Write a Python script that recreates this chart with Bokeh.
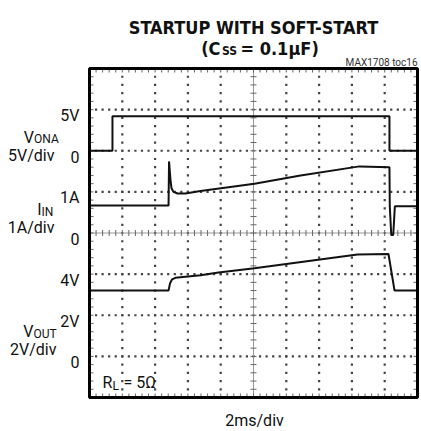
import numpy as np
from bokeh.plotting import figure
from bokeh.models import Label, Range1d
from bokeh.embed import file_html
from bokeh.resources import INLINE

# ---- data (time in ms, 2ms/div) ----
t_vona = [0, 1.40, 1.40, 18.29, 18.29, 20]
v_ona = [0, 0, 4.2, 4.2, 0, 0]            # V, 5V/div, zero at div 6

t_iin = [0, 4.82, 4.85, 4.94, 5.00, 5.12, 5.37, 5.85, 6.77, 10.06, 12.87,
         16.46, 18.29, 18.31, 18.40, 18.52, 18.62, 20]
i_in = [0.67, 0.67, 1.74, 1.28, 1.09, 1.00, 0.96, 0.96, 1.02, 1.20, 1.40,
        1.62, 1.60, 0.65, -0.05, -0.05, 0.65, 0.65]  # A, 1A/div, zero at div 4

t_vout = [0, 4.82, 4.91, 5.03, 5.24, 6.77, 7.87, 10.06, 16.34, 18.23, 18.60, 20]
v_out = [3.2, 3.2, 3.55, 3.74, 3.82, 3.94, 4.08, 4.29, 4.96, 4.98, 3.2, 3.2]  # V, 2V/div, zero at div 1

scale_labels = ["5V", "0", "1A", "0", "4V", "2V", "0"]
scale_divs = [7, 6, 5, 4, 3, 2, 1]

VONA_ZERO, VONA_SCALE = 6, 5.0
IIN_ZERO, IIN_SCALE = 4, 1.0
VOUT_ZERO, VOUT_SCALE = 1, 2.0
T_SPAN, DIVS = 20.0, 8.0

FL, FR, FT, FB = 89, 417, 68, 397   # scope screen in picture px
W, H = 421, 431

def X(px):
    return (px - FL) / (FR - FL) * T_SPAN

def Y(py):
    return (FB - py) / (FB - FT) * DIVS

FONT = "Roboto"
TFONT = "DejaVu Sans Condensed, Roboto, sans-serif"

p = figure(width=W, height=H, x_range=Range1d(X(0), X(W)), y_range=Range1d(Y(H), Y(0)),
           output_backend="svg", toolbar_location=None,
           x_axis_location=None, y_axis_location=None,
           min_border_left=0, min_border_right=0, min_border_top=0, min_border_bottom=0)
p.grid.visible = False
p.outline_line_color = None
p.background_fill_color = "white"
p.border_fill_color = "white"

# dotted grid
gx = np.arange(0.4, T_SPAN, 0.4)
gy = np.arange(0.2, DIVS, 0.2)
hx, hy = [], []
for yy in [1, 2, 3, 5, 6, 7]:
    hx += list(gx); hy += [yy] * len(gx)
for xx in [2, 4, 6, 8, 12, 14, 16, 18]:
    hx += [xx] * len(gy); hy += list(gy)
p.scatter(hx, hy, marker="square", size=2.2, color="#444", line_color=None)

# center lines with ticks
dyp = DIVS / (FB - FT)
dxp = T_SPAN / (FR - FL)
p.line([0, T_SPAN], [4, 4], line_color="#999", line_width=1)
p.line([10, 10], [0, DIVS], line_color="#999", line_width=1)
p.segment(x0=gx, y0=4 - 3 * dyp, x1=gx, y1=4 + 3 * dyp, line_color="#666", line_width=1)
p.segment(x0=10 - 3 * dxp, y0=gy, x1=10 + 3 * dxp, y1=gy, line_color="#666", line_width=1)
# frame ticks
p.segment(x0=gx, y0=0, x1=gx, y1=4 * dyp, line_color="#666", line_width=1)
p.segment(x0=gx, y0=DIVS, x1=gx, y1=DIVS - 4 * dyp, line_color="#666", line_width=1)
p.segment(x0=0, y0=gy, x1=4 * dxp, y1=gy, line_color="#666", line_width=1)
p.segment(x0=T_SPAN, y0=gy, x1=T_SPAN - 4 * dxp, y1=gy, line_color="#666", line_width=1)

# traces
p.line(t_vona, [VONA_ZERO + v / VONA_SCALE for v in v_ona], line_color="#111", line_width=2)
p.line(t_iin, [IIN_ZERO + v / IIN_SCALE for v in i_in], line_color="#111", line_width=2)
p.line(t_vout, [VOUT_ZERO + v / VOUT_SCALE for v in v_out], line_color="#111", line_width=2)

# scope frame
p.quad(left=0, right=T_SPAN, bottom=0, top=DIVS, fill_color=None,
       line_color="black", line_width=3)

def lab(text, px, py, size, align="left", bold=False, font=FONT, color="#111"):
    p.add_layout(Label(x=X(px), y=Y(py), text=text, text_align=align,
                       text_baseline="alphabetic", text_font=font,
                       text_font_size=f"{size}px", text_color=color,
                       text_font_style="bold" if bold else "normal"))

# title
lab("STARTUP WITH SOFT-START", 253, 27, 18, "center", True, TFONT)
lab("(C", 220, 48, 18, "right", True, TFONT)
lab("SS", 229, 50, 12, "center", True, TFONT)
lab("= 0.1µF)", 240, 48, 18, "left", True, TFONT)
lab("MAX1708 toc16", 417, 62, 10, "right", color="#333")

# left scale labels
for txt, gyv in zip(scale_labels, scale_divs):
    py = FB - gyv * (FB - FT) / DIVS + 6
    lab(txt, 79, py, 16, "right")

lab("V", 33.5, 137, 16, "right")
lab("ONA", 33.5, 138, 12, "left")
lab("5V/div", 54, 155, 16, "right")

lab("I", 41, 209, 16, "right")
lab("IN", 41, 211, 12, "left")
lab("1A/div", 54, 227, 16, "right")

lab("V", 33, 331, 16, "right")
lab("OUT", 33, 333, 12, "left")
lab("2V/div", 56, 349, 16, "right")

lab("R", 102, 382, 16, "left")
lab("L", 112, 385, 12, "left")
lab("= 5Ω", 123, 382, 16, "left")

lab("2ms/div", 254, 420, 16, "center")

open("out.html", "w").write(file_html(p, INLINE))
